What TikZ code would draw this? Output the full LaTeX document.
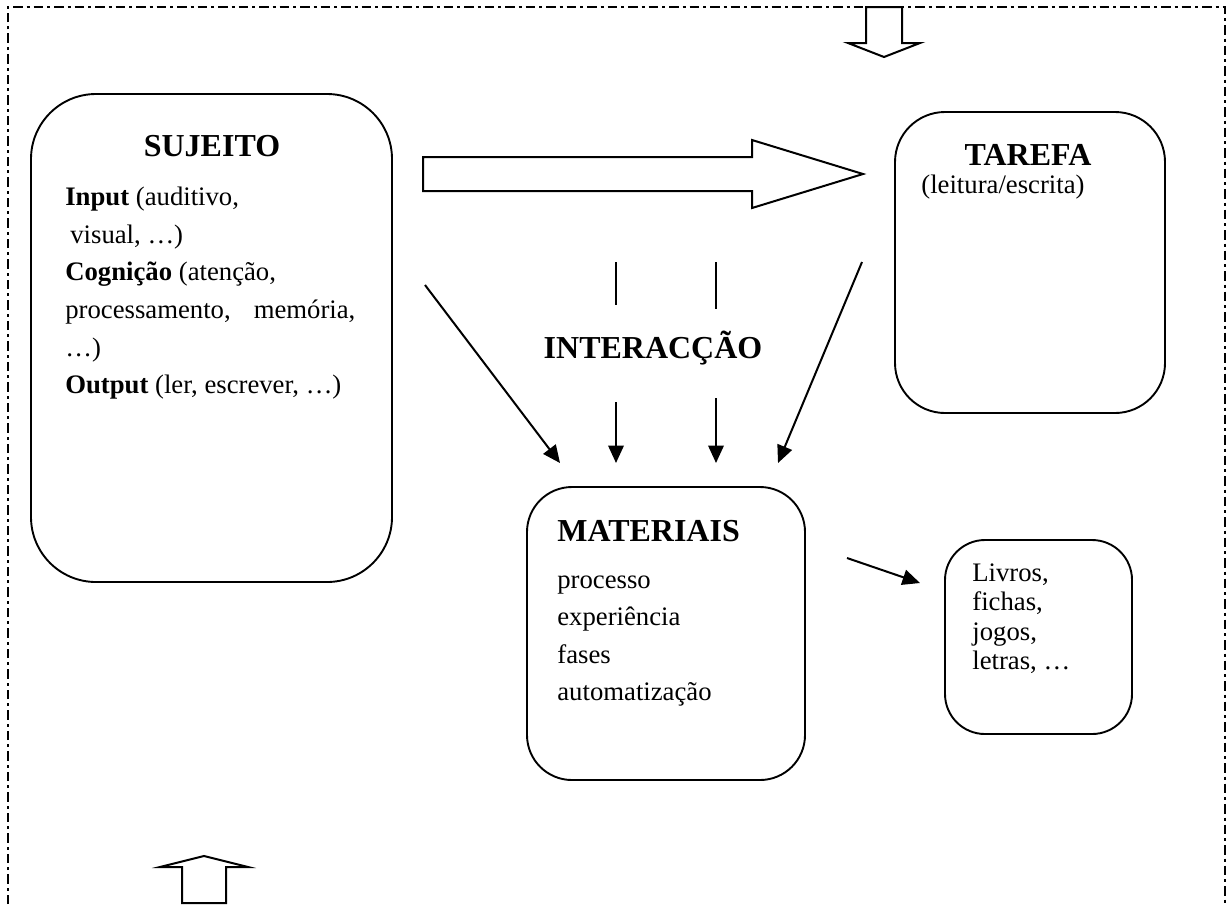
\documentclass[tikz,border=0pt]{standalone}
\usepackage{fontspec}
\setmainfont{Liberation Serif}
\usetikzlibrary{arrows.meta}

\tikzset{
  caixa/.style={draw, line width=0.38mm, rounded corners=#1, inner sep=0pt},
  caixa/.default=9mm,
  titulo/.style={font=\fontsize{18.2}{22}\selectfont\bfseries, inner sep=0pt},
  texto/.style={font=\fontsize{15.2}{18}\selectfont, inner sep=0pt, anchor=base west},
  seta/.style={line width=0.4mm, -{Triangle[length=3.5mm,width=3.1mm]}},
  bloco/.style={line width=0.4mm, fill=white},
  moldura/.style={line width=0.3mm, dash pattern=on 1.9mm off 0.8mm on 0.6mm off 0.8mm}
}

\begin{document}
\begin{tikzpicture}[x=0.2mm, y=-0.2mm]
    \useasboundingbox (0,0) rectangle (1229,904);

    % Marco punteado exterior (abierto por abajo)
    \draw[moldura] (8,904) -- (8,7) -- (1225,7) -- (1225,904);

    % Cajas principales
    \node[caixa=13mm, minimum width=72.2mm, minimum height=97.6mm] (sujeito) at (211.5,338) {};
    \node[caixa=10mm, minimum width=54mm, minimum height=60.2mm] (tarefa) at (1030,262.5) {};
    \node[caixa=9mm, minimum width=55.6mm, minimum height=58.6mm] (materiais) at (666,633.5) {};
    \node[caixa=8mm, minimum width=37.4mm, minimum height=38.8mm] (livros) at (1038.5,637) {};

    % Textos del sujeito
    \node[titulo, anchor=base] (tsujeito) at (212,156) {SUJEITO};
    \node[texto] (s1) at (65,205) {\textbf{Input} (auditivo,};
    \node[texto] (s2) at (70,243) {visual, …)};
    \node[texto] (s3) at (65,280) {\textbf{Cognição} (atenção,};
    \node[texto] (s4) at (65,318) {\makebox[58mm][s]{processamento, memória,}};
    \node[texto] (s5) at (65,356) {…)};
    \node[texto] (s6) at (65,393) {\textbf{Output} (ler, escrever, …)};

    % Textos de la tarea
    \node[titulo, anchor=base] (ttarefa) at (1028,165) {TAREFA};
    \node[texto] (t1) at (921,193) {(leitura/escrita)};

    % Textos de los materiales
    \node[titulo, anchor=base west] (tmateriais) at (557,541) {MATERIAIS};
    \node[texto] (m1) at (557,588) {processo};
    \node[texto] (m2) at (557,625) {experiência};
    \node[texto] (m3) at (557,663) {fases};
    \node[texto] (m4) at (557,700) {automatização};

    % Ejemplos de materiales
    \node[texto] (l1) at (972,581) {Livros,};
    \node[texto] (l2) at (972,610.5) {fichas,};
    \node[texto] (l3) at (972,640) {jogos,};
    \node[texto] (l4) at (972,669.5) {letras, …};

    % Interaccion
    \node[titulo, anchor=base] (interaccao) at (653,358) {INTERACÇÃO};

    % Extremos libres de las flechas
    \coordinate (a1) at (425,285);  \coordinate (b1) at (560,463);
    \coordinate (a2) at (616,262);  \coordinate (b2) at (616,305);
    \coordinate (a3) at (716,262);  \coordinate (b3) at (716,309);
    \coordinate (a4) at (616,402);  \coordinate (b4) at (616,463);
    \coordinate (a5) at (716,398);  \coordinate (b5) at (716,463);
    \coordinate (a6) at (862,262);  \coordinate (b6) at (778,463);
    \coordinate (a7) at (847,558);  \coordinate (b7) at (920,583);

    % Flechas hacia los materiales
    \draw[seta] (a1) -- (b1);
    \draw[line width=0.4mm] (a2) -- (b2);
    \draw[line width=0.4mm] (a3) -- (b3);
    \draw[seta] (a4) -- (b4);
    \draw[seta] (a5) -- (b5);
    \draw[seta] (a6) -- (b6);
    \draw[seta] (a7) -- (b7);

    % Flecha gruesa del sujeito a la tarefa
    \draw[bloco] (423,157) -- (752,157) -- (752,140) -- (863,174)
        -- (752,208) -- (752,191) -- (423,191) -- cycle;

    % Flechas de bloque arriba y abajo
    \draw[bloco] (866,7) -- (866,43) -- (848,43) -- (884,57)
        -- (920,43) -- (902,43) -- (902,7) -- cycle;
    \draw[bloco] (182,903) -- (182,867) -- (160,867) -- (204,856)
        -- (248,867) -- (226,867) -- (226,903) -- cycle;

\end{tikzpicture}
\end{document}
